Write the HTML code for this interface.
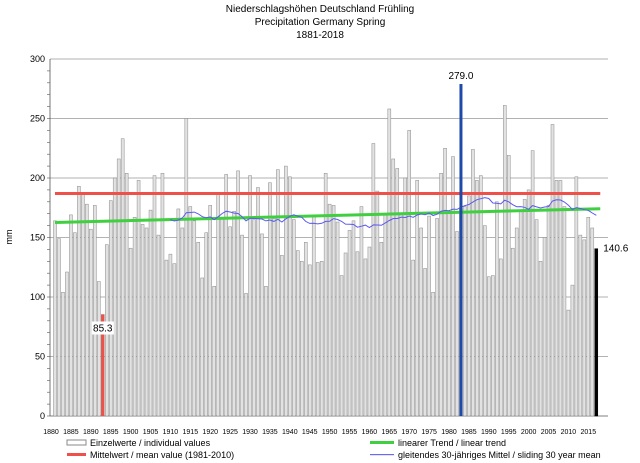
<!DOCTYPE html>
<html><head><meta charset="utf-8"><style>
body{margin:0;background:#fff;}
svg{display:block;font-family:"Liberation Sans",sans-serif;}
</style></head><body>
<svg id="chart" width="640" height="463" viewBox="0 0 640 463">
<text x="320" y="12" font-size="10" text-anchor="middle">Niederschlagshöhen Deutschland Frühling</text>
<text x="320" y="25" font-size="10" text-anchor="middle">Precipitation Germany Spring</text>
<text x="320" y="38" font-size="10" text-anchor="middle">1881-2018</text>
<text x="12" y="237" font-size="9" text-anchor="middle" transform="rotate(-90 12 237)">mm</text>
<g id="grid"></g><g id="bars"></g><g id="lines"></g><g id="axes"></g>
<g font-size="9">
<rect x="67" y="440" width="19" height="5" fill="#fff" stroke="#888"/>
<text x="90" y="446">Einzelwerte / individual values</text>
<rect x="67" y="453" width="19" height="3" fill="#f0504a"/>
<text x="90" y="458">Mittelwert / mean value (1981-2010)</text>
<rect x="370" y="441" width="24" height="3" fill="#3fcf3f"/>
<text x="398" y="446">linearer Trend / linear trend</text>
<rect x="370" y="454" width="24" height="1.2" fill="#6a6af0"/>
<text x="398" y="458">gleitendes 30-jähriges Mittel / sliding 30 year mean</text>
</g>
</svg>
<script>
const startYear = 1881;
const values = [164,149,104,121,169,154,193,187,178,157,177,113,85.3,144,181,200,216,233,204,141,
167,198,161,158,173,202,152,204,131,136,128,174,158,250,
176,164,146,116,154,177,109,186,166,203,159,172,206,152,103,202,165,192,153,109,196,166,207,135,210,201,165,139,130,146,127,168,129,130,
204,178,177,163,118,137,156,164,138,176,132,142,229,189,146,169,258,216,208,169,200,240,131,198,158,124,168,104,166,204,225,170,218,155,
175,176,185,224,198,202,160,117,118,180,132,261,219,141,158,173,182,190,223,165,130,150,177,245,198,198,176,89,110,201,152,148,167,158,140.6];
const yTicks = [0,50,100,150,200,250,300];
const markerYear = 1983, markerValue = 279.0;
const minYear = 1893, minValue = 85.3;
const meanValue = 187;
const NS="http://www.w3.org/2000/svg";
const X0=55, XS=3.98, Y0=416, YS=1.19;
const xs=y=>X0+(y-startYear)*XS;
const ys=v=>Y0-v*YS;
function mk(tag,attrs,parent,txt){const e=document.createElementNS(NS,tag);for(const k in attrs)e.setAttribute(k,attrs[k]);if(txt!==undefined)e.textContent=txt;document.getElementById(parent).appendChild(e);return e;}
yTicks.forEach(t=>{
  const g=mk('line',{x1:50,x2:608,y1:ys(t),y2:ys(t),stroke:t===0?'#555':'#999','stroke-width':0.8},'grid');
  
  
  const l=mk('text',{x:45,y:ys(t)+3,'font-size':9,'text-anchor':'end'},'axes',String(t));
  
  
});
for(let v=0;v<300;v+=10){const m=mk('line',{x1:47,x2:50,y1:ys(v),y2:ys(v),stroke:'#555','stroke-width':0.6},'axes');}
const ax=mk('line',{x1:50,x2:50,y1:ys(0),y2:ys(300),stroke:'#555','stroke-width':0.8},'axes');


for(let yr=1880;yr<=2015;yr+=5){
  const t=mk('text',{x:xs(yr),y:434,'font-size':7,'text-anchor':'middle'},'axes',String(yr));
  
  
}
values.forEach((v,i)=>{
  const yr=startYear+i;
  const last=i===values.length-1;
  const b=mk('rect',{x:xs(yr)-1.5,y:ys(v),width:last?3:3,height:v*YS,fill:last?'#000':'#e2e2e2',stroke:last?'#000':'#8a8a8a','stroke-width':0.5},'bars');
  
  
});
// trend via least squares
let n=values.length,sx=0,sy=0,sxx=0,sxy=0;
values.forEach((v,i)=>{sx+=i;sy+=v;sxx+=i*i;sxy+=i*v;});
const slope=(n*sxy-sx*sy)/(n*sxx-sx*sx), icpt=(sy-slope*sx)/n;
const mean=mk('line',{x1:xs(startYear),x2:xs(2018),y1:ys(meanValue),y2:ys(meanValue),stroke:'#f0504a','stroke-width':3},'lines');


const tr=mk('line',{x1:xs(startYear),x2:xs(2018),y1:ys(icpt),y2:ys(icpt+slope*(n-1)),stroke:'#3fcf3f','stroke-width':3},'lines');


let pts=[];
for(let i=29;i<n;i++){let s=0;for(let j=i-29;j<=i;j++)s+=values[j];pts.push(xs(startYear+i).toFixed(1)+','+ys(s/30).toFixed(1));}
const sl=mk('polyline',{points:pts.join(' '),fill:'none',stroke:'#5a5af0','stroke-width':1},'lines');


const mn=mk('line',{x1:xs(minYear),x2:xs(minYear),y1:ys(0),y2:ys(minValue),stroke:'#f0504a','stroke-width':3},'lines');


const mr=mk('rect',{x:xs(minYear)-11,y:ys(minValue)+7,width:22,height:13,fill:'#fff'},'lines');
const ml=mk('text',{x:xs(minYear),y:ys(minValue)+17,'font-size':10,'text-anchor':'middle'},'lines',minValue.toFixed(1));


const mk2=mk('line',{x1:xs(markerYear),x2:xs(markerYear),y1:ys(0),y2:ys(markerValue),stroke:'#1f4aa8','stroke-width':3},'lines');


const mxl=mk('text',{x:xs(markerYear),y:ys(markerValue)-5,'font-size':10,'text-anchor':'middle'},'lines',markerValue.toFixed(1));


const cl=mk('text',{x:xs(2018)+3,y:ys(values[n-1])+3,'font-size':10},'lines',values[n-1].toFixed(1));


</script>
</body></html>
